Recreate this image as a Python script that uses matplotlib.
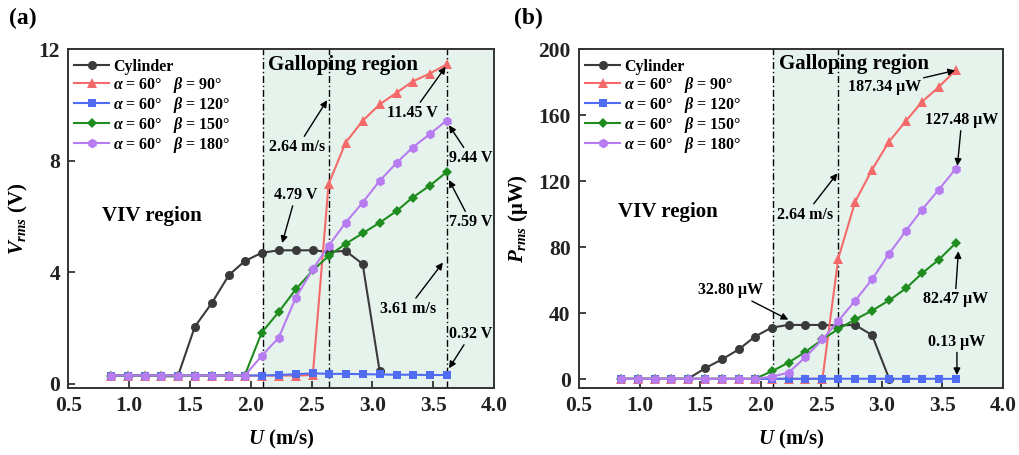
import matplotlib
matplotlib.use("Agg")
import matplotlib.pyplot as plt

plt.rcParams['font.family'] = ['Liberation Serif', 'DejaVu Serif']
plt.rcParams['font.weight'] = 'bold'
plt.rcParams['mathtext.fontset'] = 'custom'
plt.rcParams['mathtext.rm'] = 'Liberation Serif:bold'
plt.rcParams['mathtext.it'] = 'Liberation Serif:italic:bold'
plt.rcParams['mathtext.bf'] = 'Liberation Serif:bold'

# Wind speed samples (m/s)
U = [0.85, 0.99, 1.13, 1.26, 1.40, 1.54, 1.68, 1.82, 1.95, 2.09, 2.23,
     2.37, 2.51, 2.64, 2.78, 2.92, 3.06, 3.20, 3.33, 3.47, 3.61]
U_cyl = U[:17]

# RMS voltage (V)
v_cyl = [0.30, 0.30, 0.30, 0.28, 0.27, 2.05, 2.90, 3.90, 4.40, 4.70, 4.79,
         4.79, 4.79, 4.73, 4.77, 4.30, 0.45]
v_b90 = [0.30, 0.30, 0.30, 0.30, 0.30, 0.30, 0.30, 0.30, 0.30, 0.30, 0.30,
         0.30, 0.32, 7.16, 8.65, 9.43, 10.02, 10.44, 10.84, 11.12, 11.45]
v_b120 = [0.30, 0.30, 0.30, 0.30, 0.30, 0.30, 0.30, 0.30, 0.30, 0.30, 0.32,
          0.35, 0.38, 0.36, 0.36, 0.35, 0.34, 0.33, 0.33, 0.32, 0.32]
v_b150 = [0.30, 0.30, 0.30, 0.30, 0.30, 0.30, 0.30, 0.30, 0.30, 1.84, 2.58,
          3.39, 4.07, 4.59, 5.02, 5.40, 5.78, 6.20, 6.68, 7.10, 7.59]
v_b180 = [0.30, 0.30, 0.30, 0.30, 0.30, 0.30, 0.30, 0.30, 0.30, 1.00, 1.66,
          3.09, 4.11, 4.95, 5.78, 6.50, 7.28, 7.93, 8.47, 8.95, 9.44]

# RMS power (uW)
p_cyl = [0.13, 0.13, 0.13, 0.12, 0.11, 6.5, 11.9, 18.0, 25.6, 31.2, 32.80,
         32.8, 32.8, 32.5, 32.8, 26.6, 0.3]
p_b90 = [0.13, 0.13, 0.13, 0.13, 0.13, 0.13, 0.13, 0.13, 0.13, 0.13, 0.13,
         0.13, 0.15, 73.0, 107.5, 127.0, 144.0, 156.5, 168.0, 177.0, 187.34]
p_b120 = [0.13, 0.13, 0.13, 0.13, 0.13, 0.13, 0.13, 0.13, 0.13, 0.13, 0.15,
          0.17, 0.20, 0.18, 0.18, 0.17, 0.16, 0.15, 0.15, 0.14, 0.13]
p_b150 = [0.13, 0.13, 0.13, 0.13, 0.13, 0.13, 0.13, 0.13, 0.13, 4.6, 10.0,
          16.5, 24.0, 30.3, 36.1, 41.5, 47.7, 55.0, 64.0, 72.3, 82.47]
p_b180 = [0.13, 0.13, 0.13, 0.13, 0.13, 0.13, 0.13, 0.13, 0.13, 1.4, 3.9,
          13.3, 24.0, 35.2, 47.5, 60.5, 75.9, 90.0, 102.5, 114.8, 127.48]

labels = ["Cylinder",
          r"$\alpha$ = 60°   $\beta$ = 90°",
          r"$\alpha$ = 60°   $\beta$ = 120°",
          r"$\alpha$ = 60°   $\beta$ = 150°",
          r"$\alpha$ = 60°   $\beta$ = 180°"]
colors = ["#3a3a3a", "#f46a6a", "#4f6cf2", "#1e8c1e", "#b77cf0"]
markers = ["o", "^", "s", "D", "h"]
msizes = [6.5, 6.5, 6, 5.5, 7]

shade = "#e6f3ec"
gallop_start = 2.1
v_onset = 2.64
v_end = 3.61

fig = plt.figure(figsize=(10.2, 4.55), dpi=100)
axa = fig.add_axes([0.0670, 0.147, 0.4173, 0.745])
axb = fig.add_axes([0.5676, 0.147, 0.4157, 0.745])


def draw_series(ax, xs, series):
    for x, y, lab, c, m, s in zip(xs, series, labels, colors, markers, msizes):
        ax.plot(x, y, color=c, marker=m, ms=s, lw=1.5, label=lab,
                markeredgewidth=0)


def style_axes(ax, ylim, yticks):
    ax.set_xlim(0.5, 4.0)
    ax.set_ylim(*ylim)
    ax.set_xticks([0.5, 1.0, 1.5, 2.0, 2.5, 3.0, 3.5, 4.0])
    ax.set_xticklabels(["0.5", "1.0", "1.5", "2.0", "2.5", "3.0", "3.5", "4.0"])
    ax.set_yticks(yticks)
    ax.tick_params(direction="in", length=5, width=1.2, labelsize=15.5,
                   colors="#222222", pad=6)
    for lab in ax.get_xticklabels() + ax.get_yticklabels():
        lab.set_fontweight("bold")
    for sp in ax.spines.values():
        sp.set_linewidth(1.4)
        sp.set_color("#333333")
    ax.set_xlabel(r"$U$ (m/s)", fontsize=15, fontweight="bold", labelpad=8)
    ax.legend(loc="upper left", bbox_to_anchor=(-0.014, 1.006), frameon=False,
              fontsize=11.5, handlelength=2.2, handletextpad=0.25,
              labelspacing=0.0, borderaxespad=0.35)


ann_kw = dict(fontsize=11.5, fontweight="bold", ha="center", va="center")
arrow = dict(arrowstyle="-|>", color="black", lw=1.0, mutation_scale=10,
             shrinkA=0, shrinkB=0)

# ---- (a) voltage ----
axa.axvspan(gallop_start, 4.0, color=shade, lw=0, zorder=0)
for xv in (gallop_start, v_onset, v_end):
    axa.axvline(xv, color="black", lw=1.0, ls=(0, (5, 2, 1, 2)), zorder=1)
draw_series(axa, [U_cyl, U, U, U, U], [v_cyl, v_b90, v_b120, v_b150, v_b180])
style_axes(axa, (-0.15, 12), [0, 4, 8, 12])
axa.set_ylabel(r"$V_{rms}$ (V)", fontsize=15, fontweight="bold", labelpad=6)

axa.text(2.145, 11.43, "Galloping region", fontsize=15, fontweight="bold",
         ha="left", va="center")
axa.text(0.78, 6.02, "VIV region", fontsize=15, fontweight="bold",
         ha="left", va="center")
axa.annotate("2.64 m/s", xy=(2.628, 10.17), xytext=(2.384, 8.49),
             arrowprops=arrow, **ann_kw)
axa.annotate("4.79 V", xy=(2.258, 5.05), xytext=(2.37, 6.77),
             arrowprops=arrow, **ann_kw)
axa.annotate("11.45 V", xy=(3.603, 11.37), xytext=(3.33, 9.71),
             arrowprops=arrow, **ann_kw)
axa.annotate("9.44 V", xy=(3.63, 9.27), xytext=(3.81, 8.09),
             arrowprops=arrow, **ann_kw)
axa.annotate("7.59 V", xy=(3.63, 7.31), xytext=(3.81, 5.80),
             arrowprops=arrow, **ann_kw)
axa.annotate("3.61 m/s", xy=(3.58, 4.35), xytext=(3.29, 2.69),
             arrowprops=arrow, **ann_kw)
axa.annotate("0.32 V", xy=(3.63, 0.56), xytext=(3.81, 1.79),
             arrowprops=arrow, **ann_kw)

# ---- (b) power ----
axb.axvspan(gallop_start, 4.0, color=shade, lw=0, zorder=0)
for xv in (gallop_start, v_onset):
    axb.axvline(xv, color="black", lw=1.0, ls=(0, (5, 2, 1, 2)), zorder=1)
draw_series(axb, [U_cyl, U, U, U, U], [p_cyl, p_b90, p_b120, p_b150, p_b180])
style_axes(axb, (-5.5, 200), [0, 40, 80, 120, 160, 200])
axb.set_ylabel(r"$P_{rms}$ (μW)", fontsize=15, fontweight="bold", labelpad=6)

axb.text(2.154, 191.2, "Galloping region", fontsize=15, fontweight="bold",
         ha="left", va="center")
axb.text(0.822, 101.5, "VIV region", fontsize=15, fontweight="bold",
         ha="left", va="center")
axb.annotate("187.34 μW", xy=(3.605, 187.1), xytext=(3.02, 177.0),
             arrowprops=arrow, **ann_kw)
axb.annotate("127.48 μW", xy=(3.624, 129.3), xytext=(3.66, 157.1),
             arrowprops=arrow, **ann_kw)
axb.annotate("2.64 m/s", xy=(2.633, 124.7), xytext=(2.369, 99.7),
             arrowprops=arrow, **ann_kw)
axb.annotate("32.80 μW", xy=(2.228, 36.0), xytext=(1.753, 53.8),
             arrowprops=arrow, **ann_kw)
axb.annotate("82.47 μW", xy=(3.632, 77.5), xytext=(3.605, 48.3),
             arrowprops=arrow, **ann_kw)
axb.annotate("0.13 μW", xy=(3.62, 2.4), xytext=(3.62, 22.7),
             arrowprops=arrow, **ann_kw)

fig.text(0.022, 0.96, "(a)", fontsize=17, fontweight="bold",
         ha="center", va="center")
fig.text(0.518, 0.96, "(b)", fontsize=17, fontweight="bold",
         ha="center", va="center")

fig.savefig("out.png", dpi=100)
